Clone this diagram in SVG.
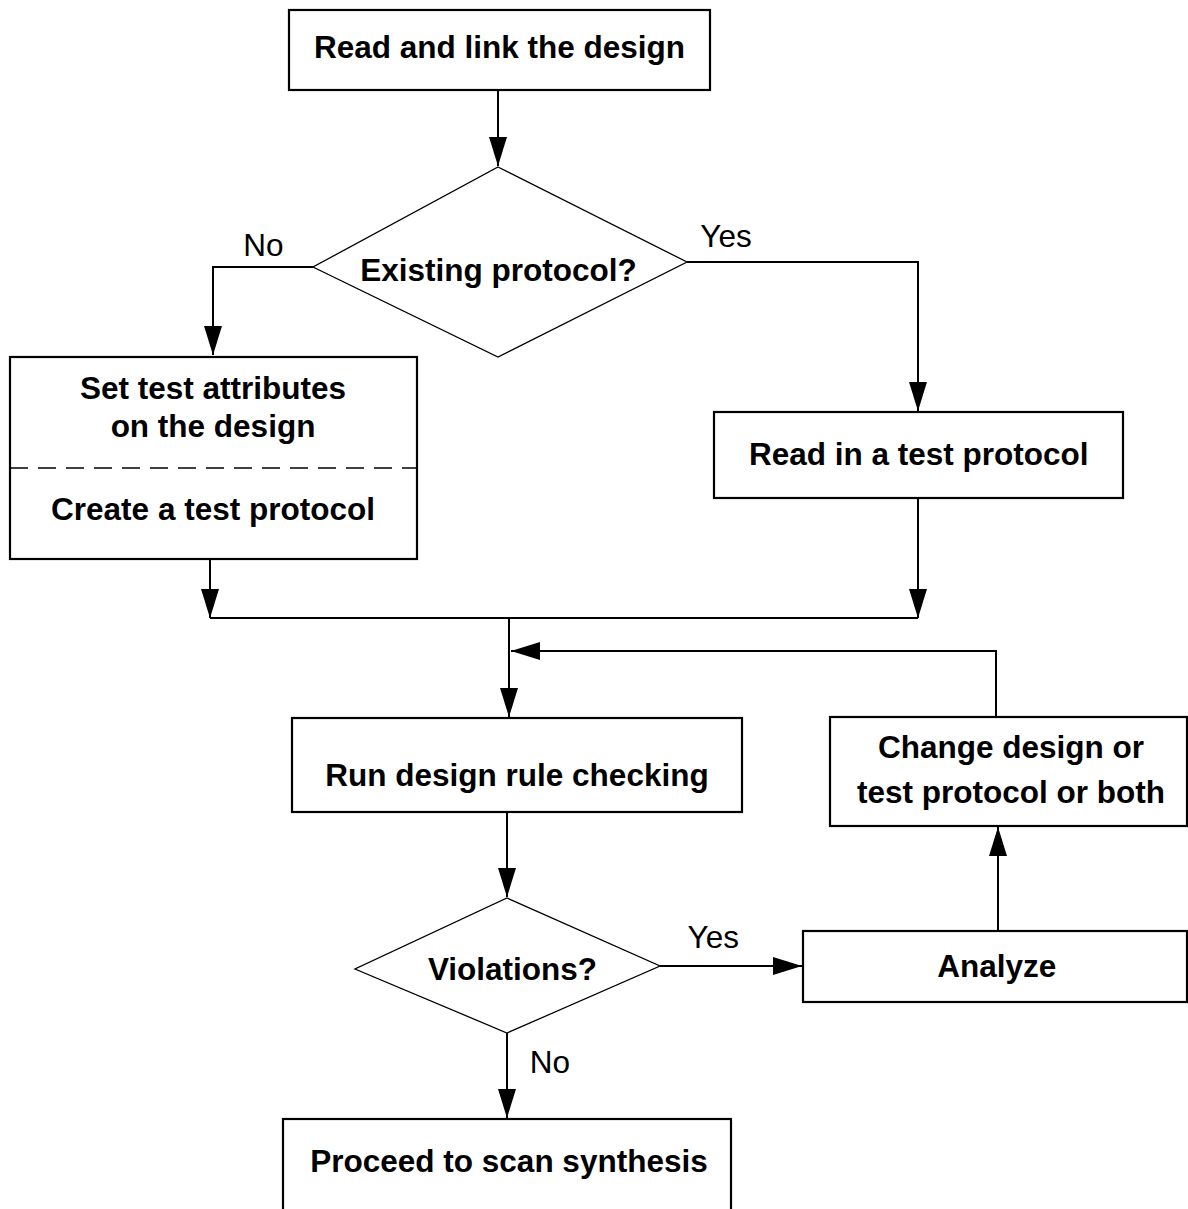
<svg xmlns="http://www.w3.org/2000/svg" width="1188" height="1209" viewBox="0 0 1188 1209">
  <style>
    .box { fill: #ffffff; stroke: #000000; stroke-width: 2.2; }
    .dia { fill: #ffffff; stroke: #000000; stroke-width: 1.3; }
    .wire { fill: none; stroke: #000000; stroke-width: 2; }
    .sep { fill: none; stroke: #000000; stroke-width: 1.6; stroke-dasharray: 18 10; }
    .t { font-family: "Liberation Sans", Arial, Helvetica, sans-serif; font-size: 31.5px; font-weight: bold; fill: #000000; text-anchor: middle; }
    .lbl { font-family: "Liberation Sans", Arial, Helvetica, sans-serif; font-size: 31.5px; font-weight: normal; fill: #000000; text-anchor: middle; }
  </style>
  <defs>
    <marker id="arrow" markerUnits="userSpaceOnUse" markerWidth="30" markerHeight="18" refX="29" refY="9" orient="auto">
      <path d="M0,0 L29,9 L0,18 z" fill="#000000"/>
    </marker>
  </defs>
  <rect width="1188" height="1209" fill="#ffffff"/>

  <!-- connectors -->
  <g id="connectors">
    <path class="wire" d="M498,91 L498,166" marker-end="url(#arrow)"/>
    <path class="wire" d="M313,267 L213,267 L213,355" marker-end="url(#arrow)"/>
    <path class="wire" d="M687,262 L918,262 L918,411" marker-end="url(#arrow)"/>
    <path class="wire" d="M210,560 L210,618" marker-end="url(#arrow)"/>
    <path class="wire" d="M918,498 L918,618" marker-end="url(#arrow)"/>
    <path class="wire" d="M210,618 L918,618"/>
    <path class="wire" d="M509,618 L509,717" marker-end="url(#arrow)"/>
    <path class="wire" d="M996,717 L996,651 L511,651" marker-end="url(#arrow)"/>
    <path class="wire" d="M507,812 L507,897" marker-end="url(#arrow)"/>
    <path class="wire" d="M660,966 L802,966" marker-end="url(#arrow)"/>
    <path class="wire" d="M998,931 L998,827" marker-end="url(#arrow)"/>
    <path class="wire" d="M507,1033 L507,1118" marker-end="url(#arrow)"/>
  </g>

  <!-- branch labels -->
  <g id="labels">
    <text class="lbl" x="263.5" y="255.7">No</text>
    <text class="lbl" x="726" y="246.7">Yes</text>
    <text class="lbl" x="713.3" y="948.3">Yes</text>
    <text class="lbl" x="550" y="1073">No</text>
  </g>

  <g id="read-link">
    <rect class="box" x="289" y="10" width="421" height="80"/>
    <text class="t" x="499.5" y="58.3">Read and link the design</text>
  </g>

  <g id="existing-protocol">
    <polygon class="dia" points="498,167 687,262 498,357 313,267"/>
    <text class="t" x="498.5" y="281">Existing protocol?</text>
  </g>

  <g id="set-attributes">
    <rect class="box" x="10" y="357" width="407" height="202"/>
    <line class="sep" x1="10" y1="468" x2="417" y2="468"/>
    <text class="t" x="213" y="399">Set test attributes</text>
    <text class="t" x="213" y="437">on the design</text>
    <text class="t" x="213" y="520">Create a test protocol</text>
  </g>

  <g id="read-protocol">
    <rect class="box" x="714" y="412" width="409" height="86"/>
    <text class="t" x="918.7" y="465">Read in a test protocol</text>
  </g>

  <g id="run-drc">
    <rect class="box" x="292" y="718" width="450" height="94"/>
    <text class="t" x="517" y="786">Run design rule checking</text>
  </g>

  <g id="change-design">
    <rect class="box" x="830" y="717" width="357" height="109"/>
    <text class="t" x="1011" y="758.3">Change design or</text>
    <text class="t" x="1011" y="803.3">test protocol or both</text>
  </g>

  <g id="violations">
    <polygon class="dia" points="507,898 660,966 507,1033 355,969"/>
    <text class="t" x="512.5" y="980">Violations?</text>
  </g>

  <g id="analyze">
    <rect class="box" x="803" y="931" width="384" height="71"/>
    <text class="t" x="996.7" y="977.3">Analyze</text>
  </g>

  <g id="proceed">
    <rect class="box" x="283" y="1119" width="448" height="110"/>
    <text class="t" x="509" y="1171.7">Proceed to scan synthesis</text>
  </g>
</svg>
